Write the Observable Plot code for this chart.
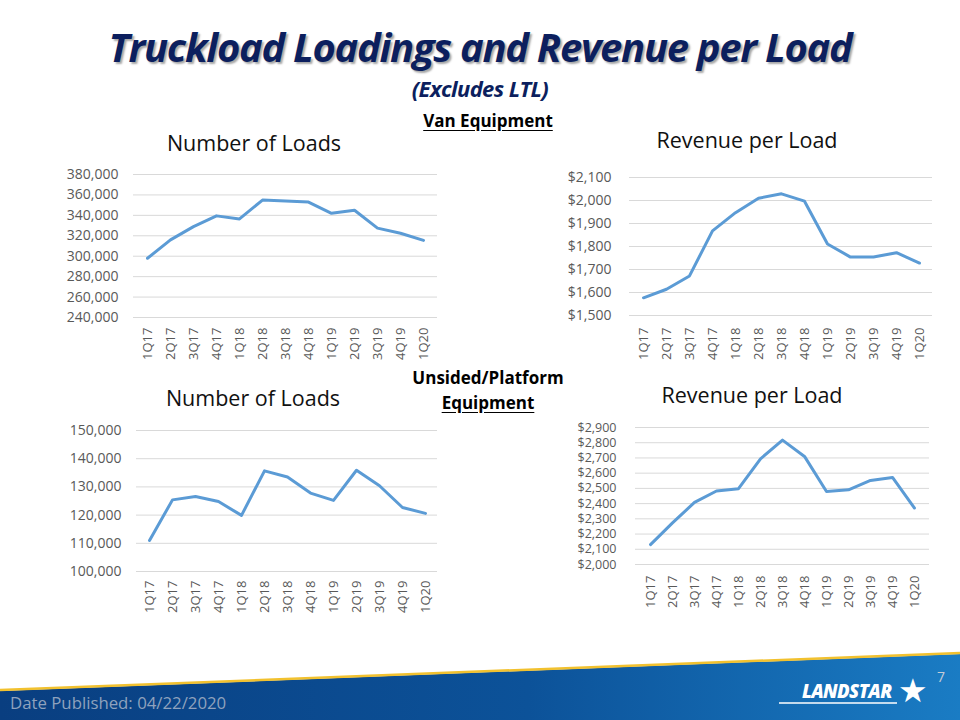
<!DOCTYPE html>
<html>
<head>
<meta charset="utf-8">
<script src="https://cdn.jsdelivr.net/npm/d3@7"></script>
<script src="https://cdn.jsdelivr.net/npm/@observablehq/plot@0.6"></script>
<style>
  html, body { margin: 0; padding: 0; }
  body { width: 960px; height: 720px; position: relative; overflow: hidden; background: #fff; font-family: "Open Sans", sans-serif; }
  .abs { position: absolute; }
  .title { left: 0; width: 960px; text-align: center; top: 27px; font-family: "Open Sans", sans-serif; font-weight: 700; font-style: italic; font-size: 40px; color: #0c1f5e; text-shadow: 2px 2px 2px rgba(0,0,0,0.35); letter-spacing: -1.3px; white-space: nowrap; line-height: 1; }
  .subtitle { left: 0; width: 960px; text-align: center; top: 77px; font-weight: 700; font-style: italic; font-size: 22px; color: #0c1f5e; letter-spacing: -0.6px; line-height: 1; }
  .section { font-weight: 700; font-size: 17px; color: #000; text-align: center; line-height: 1; white-space: nowrap; }
  .u { text-decoration: underline; text-underline-offset: 3px; }
  .ctitle { font-size: 21.5px; color: #111; white-space: nowrap; line-height: 1; transform: translate(-50%, -50%); }
</style>
</head>
<body>

<div class="abs title">Truckload Loadings and Revenue per Load</div>
<div class="abs subtitle">(Excludes LTL)</div>
<div class="abs section u" style="left:420px; width:136px; top:112px;">Van Equipment</div>
<div class="abs section" style="left:400px; width:176px; top:369px;">Unsided/Platform</div>
<div class="abs section u" style="left:400px; width:176px; top:394px;">Equipment</div>

<div class="abs ctitle" style="left:254px; top:143px;">Number of Loads</div>
<div class="abs ctitle" style="left:747px; top:140px;">Revenue per Load</div>
<div class="abs ctitle" style="left:253px; top:398px;">Number of Loads</div>
<div class="abs ctitle" style="left:752px; top:395px;">Revenue per Load</div>

<div id="c1" class="abs" style="left:40px; top:150px;"></div>
<div id="c2" class="abs" style="left:540px; top:150px;"></div>
<div id="c3" class="abs" style="left:40px; top:410px;"></div>
<div id="c4" class="abs" style="left:540px; top:410px;"></div>

<!-- footer band -->
<svg class="abs" style="left:0; top:640px;" width="960" height="80">
  <defs>
    <linearGradient id="band" x1="0" x2="1" y1="0" y2="0">
      <stop offset="0" stop-color="#093e80"/>
      <stop offset="0.55" stop-color="#0c5299"/>
      <stop offset="1" stop-color="#1a7cc4"/>
    </linearGradient>
  </defs>
  <polygon points="0,51 960,14 960,80 0,80" fill="url(#band)"/>
  <line x1="0" y1="50" x2="960" y2="13" stroke="#f2c12e" stroke-width="2.5"/>
  <text x="10" y="69" font-family="Open Sans, sans-serif" font-size="16.8" fill="#8fa2bd">Date Published:  04/22/2020</text>
  <text x="937" y="42" font-family="Open Sans, sans-serif" font-size="14" fill="#c5ccd6">7</text>
  <text x="802" y="58" font-family="Open Sans, sans-serif" font-weight="800" font-style="italic" font-size="18.5" fill="#fff" letter-spacing="-0.6">LANDSTAR</text>
  <line x1="779" y1="63" x2="897" y2="63" stroke="#fff" stroke-width="1.5"/>
  <text x="898" y="62" font-family="DejaVu Sans, sans-serif" font-size="33" fill="#fff">★</text>
</svg>

<script>
// ---- data ----
const quarters = ["1Q17","2Q17","3Q17","4Q17","1Q18","2Q18","3Q18","4Q18","1Q19","2Q19","3Q19","4Q19","1Q20"];

const vanLoads = [298000, 316000, 329000, 339500, 336500, 355000, 354000, 353000, 342000, 345000, 327500, 322500, 315500];
const vanRevenue = [1577, 1614, 1672, 1868, 1947, 2010, 2029, 1997, 1811, 1754, 1754, 1773, 1728];
const platformLoads = [111000, 125400, 126600, 124800, 119900, 135700, 133500, 127800, 125200, 135900, 130400, 122700, 120600];
const platformRevenue = [2131, 2273, 2408, 2483, 2498, 2694, 2817, 2710, 2480, 2491, 2552, 2572, 2371];

const vanLoadsTicks = [240000, 260000, 280000, 300000, 320000, 340000, 360000, 380000];
const vanRevenueTicks = [1500, 1600, 1700, 1800, 1900, 2000, 2100];
const platformLoadsTicks = [100000, 110000, 120000, 130000, 140000, 150000];
const platformRevenueTicks = [2000, 2100, 2200, 2300, 2400, 2500, 2600, 2700, 2800, 2900];

// ---- drawing ----
const fmtNum = d3.format(",");
const fmtDollar = d => "$" + d3.format(",")(d);

function chart(el, values, ticks, fmt, opts) {
  const data = quarters.map((q, i) => ({q, v: values[i]}));
  const p = Plot.plot({
    width: opts.width,
    height: opts.height,
    marginTop: opts.mt,
    marginBottom: opts.mb,
    marginLeft: opts.ml,
    marginRight: opts.mr,
    style: {background: "transparent", color: "#595959", fontFamily: "Open Sans, sans-serif", overflow: "visible"},
    x: {type: "point", domain: quarters, padding: 0.5},
    y: {domain: [ticks[0], ticks[ticks.length - 1]]},
    marks: [
      Plot.gridY(ticks, {stroke: "#d9d9d9", strokeOpacity: 1, strokeWidth: 1}),
      Plot.axisY(ticks, {tickSize: 0, tickPadding: opts.yPad, tickFormat: fmt, fontSize: opts.yFont, label: null, fill: "#595959"}),
      Plot.axisX({tickSize: 0, tickPadding: opts.xPad, tickRotate: -90, fontSize: 13, label: null, fill: "#595959"}),
      Plot.lineY(data, {x: "q", y: "v", stroke: "#5b9bd5", strokeWidth: 3, strokeLinejoin: "round", strokeLinecap: "round"})
    ]
  });
  document.getElementById(el).appendChild(p);
}

chart("c1", vanLoads, vanLoadsTicks, fmtNum, {width: 410, height: 215, mt: 24, mb: 48, ml: 93, mr: 13, yPad: 15, yFont: 14, xPad: 10});
chart("c2", vanRevenue, vanRevenueTicks, fmtDollar, {width: 420, height: 215, mt: 27, mb: 50, ml: 89, mr: 28, yPad: 18, yFont: 14, xPad: 12});
chart("c3", platformLoads, platformLoadsTicks, fmtNum, {width: 410, height: 215, mt: 20, mb: 54, ml: 96, mr: 13, yPad: 15, yFont: 14, xPad: 9});
chart("c4", platformRevenue, platformRevenueTicks, fmtDollar, {width: 420, height: 215, mt: 17, mb: 61, ml: 95, mr: 31, yPad: 19, yFont: 12.5, xPad: 11});
</script>
</body>
</html>
